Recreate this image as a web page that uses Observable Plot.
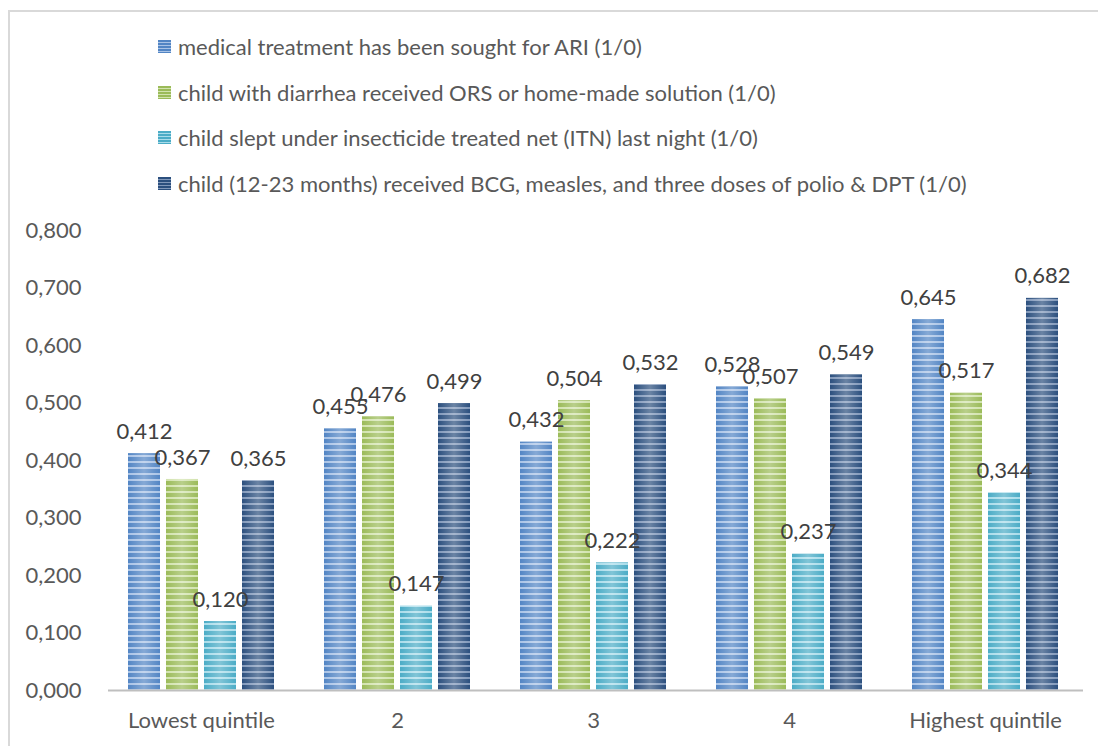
<!DOCTYPE html>
<html>
<head>
<meta charset="utf-8">
<script src="https://cdn.jsdelivr.net/npm/d3@7"></script>
<script src="https://cdn.jsdelivr.net/npm/@observablehq/plot@0.6"></script>
<style>
  html, body { margin: 0; padding: 0; background: #fff; }
  body { width: 1098px; height: 746px; position: relative; overflow: hidden; font-family: Lato, "Open Sans", sans-serif; }
  #frame { position: absolute; left: 8px; top: 10px; width: 1200px; height: 800px; border-left: 2px solid #d9d9d9; border-top: 2px solid #d9d9d9; }
  #legend { position: absolute; left: 158px; top: 24px; }
  .item { height: 45.5px; display: flex; align-items: center; font-size: 22px; color: #595959; }
  .sw { width: 13px; height: 13px; margin-right: 7px; flex: none; }
  #chart { position: absolute; left: 0; top: 200px; }
</style>
</head>
<body>
<div id="frame"></div>
<div id="legend"></div>
<div id="chart"></div>
<script>
const categories = ["Lowest quintile", "2", "3", "4", "Highest quintile"];
const seriesNames = [
  "medical treatment has been sought for ARI (1/0)",
  "child with diarrhea received ORS or home-made solution (1/0)",
  "child slept under insecticide treated net (ITN) last night (1/0)",
  "child (12-23 months) received BCG, measles, and three doses of polio & DPT (1/0)"
];
const ari  = [0.412, 0.455, 0.432, 0.528, 0.645];
const ors  = [0.367, 0.476, 0.504, 0.507, 0.517];
const itn  = [0.120, 0.147, 0.222, 0.237, 0.344];
const vacc = [0.365, 0.499, 0.532, 0.549, 0.682];
const yTicks = [0, 0.1, 0.2, 0.3, 0.4, 0.5, 0.6, 0.7, 0.8];

const baseColors  = ["#5285c4", "#9bbb59", "#4bacc6", "#2b4f7e"];
const lightColors = ["#a9c3e6", "#d2e3ae", "#a9dcea", "#8198ba"];

const seriesValues = [ari, ors, itn, vacc];
const data = [];
seriesValues.forEach((vals, s) => vals.forEach((v, i) => data.push({cat: categories[i], s, series: seriesNames[s], value: v})));

const fmt = v => d3.format(".3f")(v).replace(".", ",");

// Legend
const legend = document.getElementById("legend");
seriesNames.forEach((name, i) => {
  const row = document.createElement("div");
  row.className = "item";
  const sw = document.createElement("span");
  sw.className = "sw";
  sw.style.background = `repeating-linear-gradient(to bottom, ${baseColors[i]} 0px, ${baseColors[i]} 2px, ${lightColors[i]} 2px, ${lightColors[i]} 3px)`;
  row.appendChild(sw);
  row.appendChild(document.createTextNode(name));
  legend.appendChild(row);
});

const barW = 32, step = 38, groupW = 146;
const barMarks = [], textMarks = [];
for (let s = 0; s < 4; s++) {
  const sub = data.filter(d => d.s === s);
  const left = s * step;
  barMarks.push(Plot.barY(sub, {x: "cat", y: "value", fill: `url(#pat${s})`, insetLeft: left, insetRight: groupW - left - barW}));
  barMarks.push(Plot.barY(sub, {x: "cat", y: "value", fill: "url(#shine)", insetLeft: left, insetRight: groupW - left - barW}));
  textMarks.push(Plot.text(sub, {x: "cat", y: "value", text: d => fmt(d.value), dx: left + barW / 2 - groupW / 2, dy: -22, fill: "#404040", fontSize: 22}));
}

const chart = Plot.plot({
  width: 1098,
  height: 546,
  marginLeft: 108,
  marginRight: 15,
  marginTop: 30,
  marginBottom: 56,
  style: {fontSize: "22px", fontFamily: "Lato, 'Open Sans', sans-serif", color: "#595959", background: "transparent"},
  x: {domain: categories, range: [103, 1083], paddingInner: 0.255, paddingOuter: 0.1275, label: null, tickSize: 0, tickPadding: 22},
  y: {domain: [0, 0.8], ticks: yTicks, tickFormat: fmt, label: null, tickSize: 0, tickPadding: 27},
  marks: [
    ...barMarks,
    Plot.ruleY([0], {stroke: "#bfbfbf", strokeWidth: 2}),
    ...textMarks
  ]
});

const defs = `
  <linearGradient id="shine" x1="0" x2="1" y1="0" y2="0">
    <stop offset="0" stop-color="#ffffff" stop-opacity="0"/>
    <stop offset="0.5" stop-color="#ffffff" stop-opacity="0.3"/>
    <stop offset="1" stop-color="#ffffff" stop-opacity="0"/>
  </linearGradient>
  ${baseColors.map((c, i) => `
  <pattern id="pat${i}" patternUnits="userSpaceOnUse" width="10" height="6">
    <rect width="10" height="6" fill="${c}"/>
    <rect y="3" width="10" height="2" fill="${lightColors[i]}"/>
  </pattern>`).join("")}`;
const d = d3.select(chart).insert("defs", ":first-child");
d.html(defs);

document.getElementById("chart").appendChild(chart);
</script>
</body>
</html>
